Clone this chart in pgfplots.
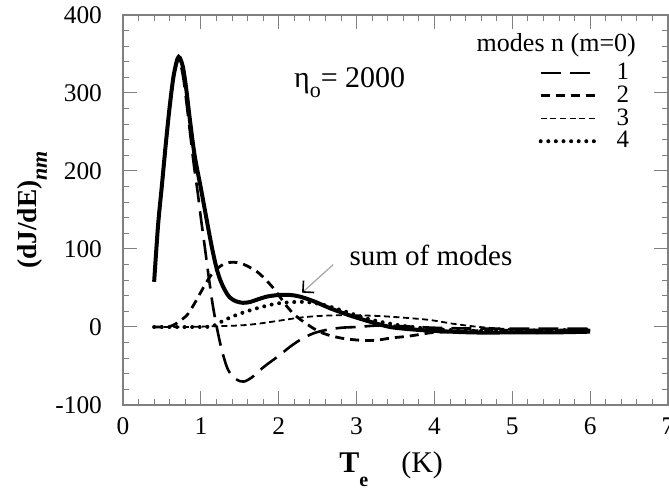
\documentclass[border=0pt]{standalone}
\usepackage{fontspec}
\setmainfont{Liberation Serif}
\usepackage{pgfplots}
\usepackage{pgfplotstable}
\pgfplotsset{compat=1.18}
\usetikzlibrary{arrows.meta}

% sum of modes
\pgfplotstableread{
x y
0.40 58
0.45 130
0.50 182
0.55 235
0.60 283
0.65 322
0.70 344
0.73 345
0.77 333
0.81 307
0.86 265
0.92 220
1.00 178
1.07 140
1.14 103
1.20 76
1.25 60
1.31 47
1.37 38
1.45 33
1.54 31
1.63 32
1.72 35
1.85 39
2.00 41
2.15 41
2.27 39
2.45 33
2.66 24
2.85 17
3.00 12
3.20 6
3.43 0
3.70 -3
4.00 -5
4.50 -7
5.00 -7
5.50 -7
6.00 -6
}\sumtab

% mode 1
\pgfplotstableread{
x y
0.40 58
0.45 128
0.50 180
0.55 232
0.60 280
0.65 320
0.70 341
0.73 340
0.77 322
0.81 292
0.86 250
0.91 208
0.96 172
1.00 140
1.05 103
1.10 65
1.15 30
1.20 2
1.27 -30
1.35 -55
1.45 -67
1.55 -70
1.65 -65
1.75 -56
1.85 -48
2.00 -37
2.15 -25
2.30 -15
2.45 -8
2.60 -4
2.80 -1
3.00 0
3.30 2
3.60 1
4.00 -1
4.50 -2
5.00 -2
5.50 -2
6.00 -2
}\modeone

% mode 2
\pgfplotstableread{
x y
0.40 0
0.55 0
0.64 2
0.72 7
0.82 15
0.90 27
0.99 43
1.07 57
1.15 69
1.25 78
1.33 82
1.41 83
1.50 82
1.60 78
1.72 71
1.82 62
1.93 50
2.02 38
2.10 27
2.20 16
2.30 8
2.45 -2
2.57 -8
2.70 -12
2.85 -15
3.05 -17
3.25 -17
3.45 -14
3.65 -12
3.85 -9
4.00 -7
4.50 -5
5.00 -4
5.50 -4
6.00 -4
}\modetwo

% mode 3
\pgfplotstableread{
x y
0.40 0
0.80 0
1.20 1
1.50 2
1.72 4
2.00 8
2.27 12
2.50 14
2.74 15
3.00 15
3.30 14
3.60 12
3.94 9
4.25 4
4.58 0
5.00 -3
5.50 -4
6.00 -4
}\modethree

% mode 4
\pgfplotstableread{
x y
0.40 0
1.00 0
1.15 1
1.25 6
1.35 11
1.50 17
1.72 24
1.97 30
2.20 32
2.36 32
2.50 30
2.66 26
2.85 20
3.00 15
3.20 9
3.50 3
3.80 -1
4.20 -4
4.60 -5
5.00 -5
5.50 -4
6.00 -4
}\modefour

\begin{document}
\begin{tikzpicture}
\begin{axis}[
    scale only axis,
    width=272.5pt, height=195pt,
    xmin=0, xmax=7, ymin=-100, ymax=400,
    xtick={0,1,2,3,4,5,6,7},
    xticklabels={0,1,2,3,4,5,6,7},
    ytick={-100,0,100,200,300,400},
    yticklabels={-100,0,100,200,300,400},
    minor x tick num=4, minor y tick num=4,
    tick align=inside,
    major tick length=7pt, minor tick length=3pt,
    every tick/.style={gray, line width=0.5pt},
    axis line style={gray, line width=0.6pt},
    tick label style={font=\fontsize{12.7}{13}\selectfont\rmfamily},
    yticklabel style={xshift=-7pt},
    xticklabel style={yshift=-3pt},
    clip=false,
    legend image code/.code={\draw[#1] (0pt,0pt) -- (27pt,0pt);},
    legend style={draw=none, fill=none, at={(rel axis cs:0.751,0.890)},
        anchor=north west, font=\fontsize{12.5}{12.5}\selectfont,
        row sep=0.6pt, column sep=9.5pt, nodes={inner sep=0.5pt}},
    legend cell align=left,
    xlabel={\fontsize{15}{15}\selectfont\textbf{T}\raisebox{-7pt}{\fontsize{10}{10}\selectfont\textbf{e}}\hspace{1.1em}(K)},
    xlabel style={at={(rel axis cs:0.492,-0.174)}, anchor=base},
    ylabel={\fontsize{13.7}{14}\selectfont\textbf{(dJ/dE)}\raisebox{-5pt}{\fontsize{11}{11}\selectfont\bfseries\itshape nm}},
    ylabel style={at={(rel axis cs:-0.158,0.5)}, anchor=base},
]
\addplot[black, line width=2pt, smooth, forget plot] table {\sumtab};
\addplot[black, line width=1.3pt, dash pattern=on 10pt off 4.5pt, smooth] table {\modeone};
\addplot[black, line width=1.4pt, dash pattern=on 4.5pt off 3pt, smooth] table {\modetwo};
\addplot[black, line width=0.9pt, dash pattern=on 3pt off 1.8pt, smooth] table {\modethree};
\addplot[black, line width=2pt, line cap=round, dash pattern=on 0pt off 3.8pt, smooth] table {\modefour};
\legend{1,2,3,4}

\node[font=\fontsize{13}{13}\selectfont] at (rel axis cs:0.795,0.923) {modes n (m=0)};
\node[anchor=west, font=\fontsize{15}{15}\selectfont] at (rel axis cs:0.301,0.826)
    {η\raisebox{-5pt}{\fontsize{11}{11}\selectfont o}= 2000};
\node[anchor=base, font=\fontsize{14.5}{15}\selectfont] at (rel axis cs:0.565,0.358) {sum of modes};
\draw[gray!70, line width=0.6pt, -{Straight Barb[color=black, length=4pt, width=8pt, line width=0.8pt]}]
    (axis cs:2.70,80) -- (axis cs:2.30,44);

\coordinate (SW) at (rel axis cs:0,0);
\coordinate (NE) at (rel axis cs:1,1);
\end{axis}
\pgfresetboundingbox
\path[use as bounding box] ([xshift=-61.5pt,yshift=-42.5pt]SW) rectangle ([xshift=0.5pt,yshift=7.5pt]NE);
\end{tikzpicture}
\end{document}
